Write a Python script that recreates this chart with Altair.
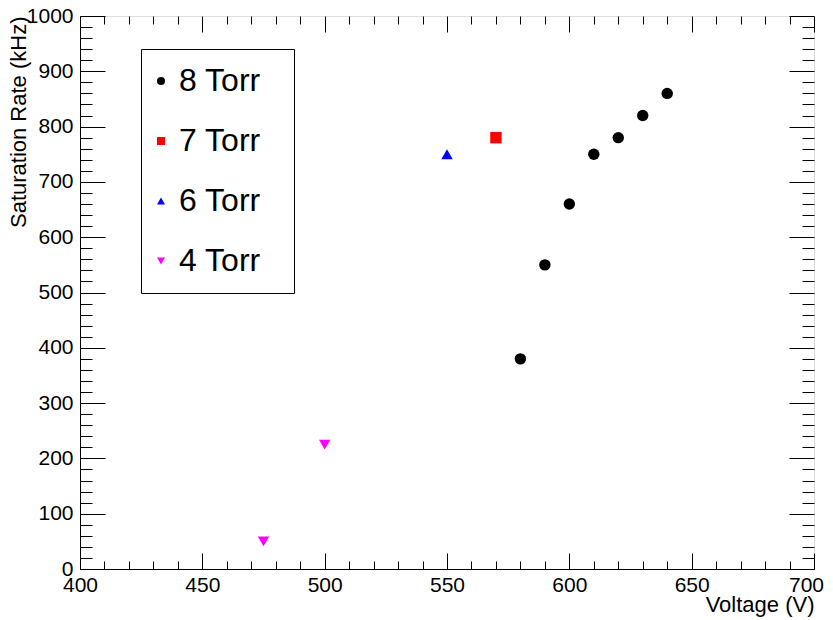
import altair as alt
import pandas as pd

# ---- data ----
v_8torr = [580, 590, 600, 610, 620, 630, 640]
r_8torr = [380, 550, 660, 750, 780, 820, 860]
v_7torr = [570]
r_7torr = [780]
v_6torr = [550]
r_6torr = [750]
v_4torr = [475, 500]
r_4torr = [50, 225]

series = ["8 Torr", "7 Torr", "6 Torr", "4 Torr"]
colors = ["#000000", "#ff0000", "#0000ff", "#ff00ff"]
shapes = ["circle", "square", "triangle-up", "triangle-down"]

x_major = list(range(400, 701, 50))
x_minor = [v for v in range(400, 701, 10) if v % 50 != 0]
y_major = list(range(0, 1001, 100))
y_minor = [v for v in range(0, 1001, 20) if v % 100 != 0]

rows = []
for name, vs, rs in [("8 Torr", v_8torr, r_8torr), ("7 Torr", v_7torr, r_7torr),
                     ("6 Torr", v_6torr, r_6torr), ("4 Torr", v_4torr, r_4torr)]:
    for v, r in zip(vs, rs):
        rows.append({"V": v, "R": r, "P": name})
df = pd.DataFrame(rows)

W, H = 734, 553
FONT = "Liberation Sans"

xs = alt.Scale(domain=[400, 700], nice=False, zero=False)
ys = alt.Scale(domain=[0, 1000], nice=False, zero=False)

base = alt.Chart(df)

points = base.mark_point(filled=True, size=130, opacity=1).encode(
    x=alt.X("V:Q", scale=xs, title="Voltage (V)",
            axis=alt.Axis(orient="bottom", values=x_major, ticks=False, format="d",
                          labelFontSize=21, labelFont=FONT, labelColor="#000",
                          labelFlush=False, labelOverlap=False, labelPadding=5,
                          labelOffset={"condition": {"test": "datum.value == 700", "value": -8},
                                       "value": 0},
                          titleFont=FONT, titleFontSize=22, titleFontWeight="normal",
                          titleAnchor="end", titleAlign="right",
                          titleBaseline="alphabetic", titleX=W, titleY=42,
                          titleColor="#000",
                          domainColor="#000", grid=False)),
    y=alt.Y("R:Q", scale=ys, title="Saturation Rate (kHz)",
            axis=alt.Axis(orient="left", values=y_major, ticks=False, format="d",
                          labelFontSize=21, labelFont=FONT, labelColor="#000",
                          labelFlush=False, labelOverlap=False, labelPadding=7,
                          titleFont=FONT, titleFontSize=22, titleFontWeight="normal",
                          titleAnchor="end", titleAlign="right", titleAngle=270,
                          titleBaseline="bottom", titleX=-50, titleY=0,
                          titleColor="#000",
                          domainColor="#000", grid=False)),
    color=alt.Color("P:N", scale=alt.Scale(domain=series, range=colors), title=" "),
    shape=alt.Shape("P:N", scale=alt.Scale(domain=series, range=shapes), title=" "),
)


def tick_layer(xvals, yvals, xlen, ylen, xorient, yorient, xoff, yoff):
    return base.mark_point(opacity=0).encode(
        x=alt.X("V:Q", scale=xs, title=None,
                axis=alt.Axis(orient=xorient, offset=xoff, values=xvals, labels=False,
                              domain=False, grid=False, tickSize=xlen, tickColor="#000",
                              tickWidth=1)),
        y=alt.Y("R:Q", scale=ys, title=None,
                axis=alt.Axis(orient=yorient, offset=yoff, values=yvals, labels=False,
                              domain=False, grid=False, tickSize=ylen, tickColor="#000",
                              tickWidth=1)),
    )


# inward ticks at bottom/left edges
l2 = tick_layer(x_major, y_major, 16, 25, "top", "right", -H, -W)
l3 = tick_layer(x_minor, y_minor, 8, 12, "top", "right", -H, -W)
# inward ticks at top/right edges
l4 = tick_layer(x_major, y_major, 16, 25, "bottom", "left", -H, -W)
l5 = tick_layer(x_minor, y_minor, 8, 12, "bottom", "left", -H, -W)

chart = alt.layer(points, l2, l3, l4, l5).resolve_axis(
    x="independent", y="independent"
).properties(
    width=W, height=H,
    autosize=alt.AutoSizeParams(type="none"),
    padding={"left": 72, "top": 8, "right": 11, "bottom": 50},
).configure_view(stroke="#000", strokeWidth=1).configure(
    background="white"
).configure_legend(
    orient="none", legendX=61, legendY=33,
    strokeColor="#000", fillColor="#fff", padding=16,
    labelFontSize=32, labelFont=FONT, labelColor="#000",
    symbolSize=64, rowPadding=28, labelOffset=2, symbolOffset=-12,
    symbolStrokeWidth=0, cornerRadius=0,
    titleOrient="right", titleFontSize=2, titlePadding=17,
)

chart.save("out.html", embed_options={"renderer": "svg", "actions": False})
